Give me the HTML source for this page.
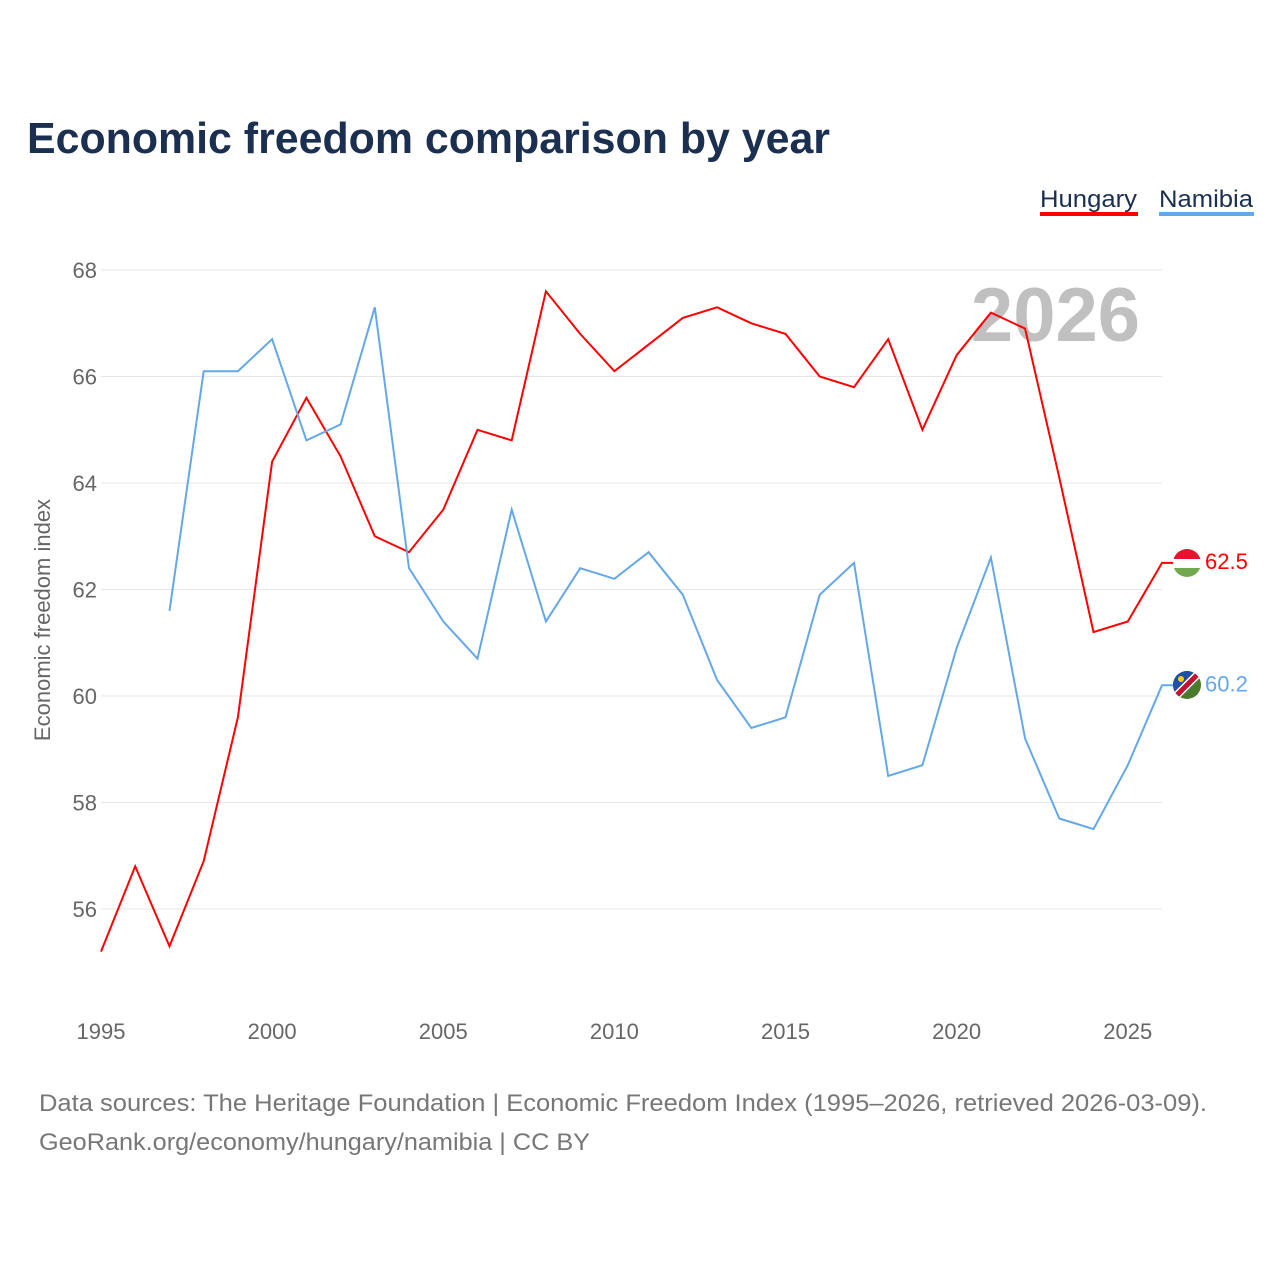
<!DOCTYPE html>
<html><head><meta charset="utf-8"><style>
body{margin:0;background:#fff;font-family:"Liberation Sans",sans-serif;}
</style></head><body>
<svg id="chart" width="1280" height="1280" xmlns="http://www.w3.org/2000/svg" font-family="Liberation Sans, sans-serif">
<defs>
<clipPath id="cH"><circle cx="1187" cy="563" r="14"/></clipPath>
<clipPath id="cN"><circle cx="1187" cy="685" r="14"/></clipPath>
</defs>
<rect width="1280" height="1280" fill="#fff"/>
<text x="27" y="153" font-size="44" font-weight="bold" fill="#1b3050" textLength="803" lengthAdjust="spacingAndGlyphs">Economic freedom comparison by year</text>
<g><text x="1040" y="207" font-size="24" fill="#1b3050" textLength="97" lengthAdjust="spacingAndGlyphs">Hungary</text><rect x="1040" y="212" width="98" height="4" fill="#ff0000"/></g>
<g><text x="1159" y="207" font-size="24" fill="#1b3050" textLength="94" lengthAdjust="spacingAndGlyphs">Namibia</text><rect x="1159" y="212" width="95" height="4" fill="#64a8ea"/></g>
<text x="1140" y="341" font-size="76" font-weight="bold" fill="#c0c0c0" text-anchor="end">2026</text>
<text transform="translate(50,620) rotate(-90)" font-size="22" fill="#666" text-anchor="middle">Economic freedom index</text>
<g id="grid"></g><g id="ticks"></g><g id="lines"></g>
<text x="39" y="1111" font-size="24" fill="#777" textLength="1168" lengthAdjust="spacingAndGlyphs">Data sources: The Heritage Foundation | Economic Freedom Index (1995–2026, retrieved 2026-03-09).</text>
<text x="39" y="1150" font-size="24" fill="#777" textLength="551" lengthAdjust="spacingAndGlyphs">GeoRank.org/economy/hungary/namibia | CC BY</text>
<g clip-path="url(#cH)">
<rect x="1173" y="549" width="28" height="10" fill="#e4132e"/><rect x="1173" y="559" width="28" height="9" fill="#fff"/><rect x="1173" y="568" width="28" height="10" fill="#72a94f"/>
</g>
<g clip-path="url(#cN)">
<rect x="1173" y="671" width="28" height="28" fill="#4a7a2c"/>
<polygon points="1173,671 1201,671 1173,699" fill="#1f4fa8"/>
<line x1="1201" y1="671" x2="1173" y2="699" stroke="#fff" stroke-width="8"/>
<line x1="1201" y1="671" x2="1173" y2="699" stroke="#c8102e" stroke-width="5"/>
<circle cx="1181" cy="679" r="3" fill="#ffce00"/>
</g>
</svg>
<script>
const years=[1995,1996,1997,1998,1999,2000,2001,2002,2003,2004,2005,2006,2007,2008,2009,2010,2011,2012,2013,2014,2015,2016,2017,2018,2019,2020,2021,2022,2023,2024,2025,2026];
const hungary=[55.2,56.8,55.3,56.9,59.6,64.4,65.6,64.5,63.0,62.7,63.5,65.0,64.8,67.6,66.8,66.1,66.6,67.1,67.3,67.0,66.8,66.0,65.8,66.7,65.0,66.4,67.2,66.9,64.1,61.2,61.4,62.5];
const namibia=[null,null,61.6,66.1,66.1,66.7,64.8,65.1,67.3,62.4,61.4,60.7,63.5,61.4,62.4,62.2,62.7,61.9,60.3,59.4,59.6,61.9,62.5,58.5,58.7,60.9,62.6,59.2,57.7,57.5,58.7,60.2];
const yTicks=[56,58,60,62,64,66,68];
const xTicks=[1995,2000,2005,2010,2015,2020,2025];
const NS="http://www.w3.org/2000/svg";
const X=y=>101+(y-1995)*(1162-101)/31;
const Y=v=>270+(68-v)*(909-270)/12;
function mk(t,a,p){const e=document.createElementNS(NS,t);for(const k in a)e.setAttribute(k,a[k]);document.getElementById(p).appendChild(e);return e;}
yTicks.forEach(v=>{
 const l=mk('line',{x1:101,x2:1162,y1:Y(v),y2:Y(v),stroke:'#e6e6e6'},'grid');
 
 
 const t=mk('text',{x:97,y:Y(v)+8,'font-size':22,fill:'#666','text-anchor':'end'},'ticks');t.textContent=v;
 
 
});
xTicks.forEach(v=>{
 const t=mk('text',{x:X(v),y:1039,'font-size':22,fill:'#666','text-anchor':'middle'},'ticks');t.textContent=v;
 
 
});
function series(vals,color,name,labelY){
 let d='';vals.forEach((v,i)=>{if(v==null)return;d+=(d?'L':'M')+X(years[i]).toFixed(1)+','+Y(v).toFixed(1);});
 const last=vals[vals.length-1];
 d+='H1173';
 const p=mk('path',{d:d,fill:'none',stroke:color,'stroke-width':2},'lines');
 
 
 const t=mk('text',{x:1205,y:Y(last)+6,'font-size':22,fill:color},'lines');t.textContent=last.toFixed(1);
 
 
}
series(hungary,'#ff0000','hungary');
series(namibia,'#64a8ea','namibia');
</script>
</body></html>
